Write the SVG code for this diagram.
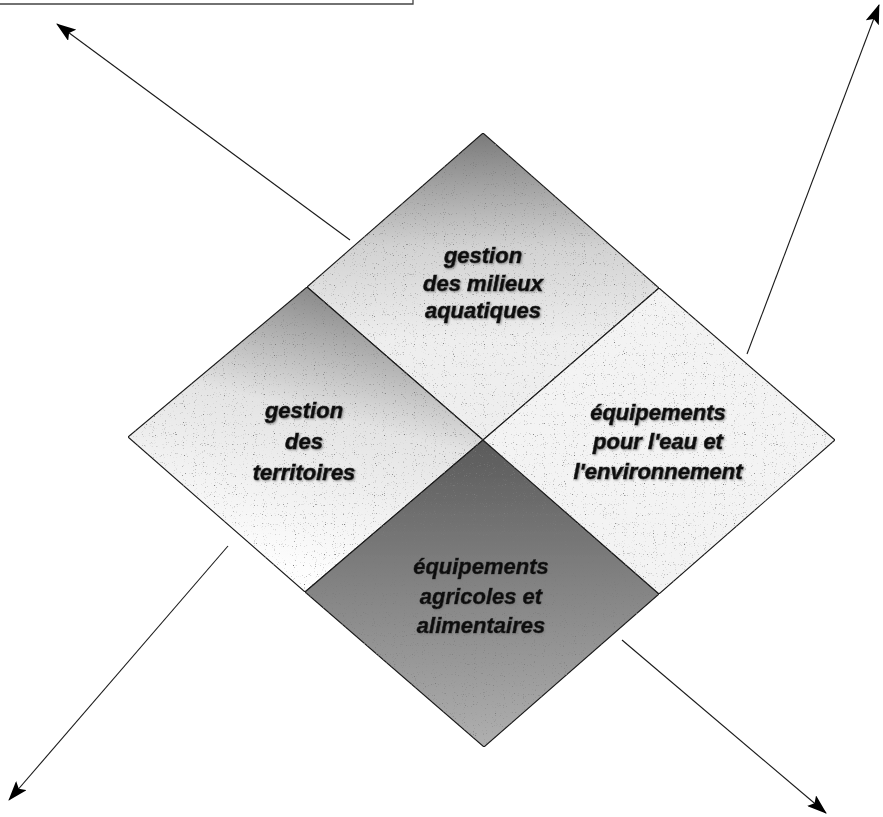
<svg xmlns="http://www.w3.org/2000/svg" width="883" height="817" viewBox="0 0 883 817">
  <defs>
    <style>
      .quad { stroke: #1a1a1a; stroke-width: 1.1; stroke-linejoin: miter; }
      .lbl { font-family: "Liberation Sans", Arial, sans-serif; font-weight: bold; font-style: italic; font-size: 22px; fill: #111; stroke: #111; stroke-width: 0.6; text-anchor: middle; }
      .conn { stroke: #1a1a1a; stroke-width: 1.1; fill: none; marker-end: url(#ah); }
      .frame { stroke: #444; stroke-width: 1.3; fill: none; }
    </style>
    <marker id="ah" viewBox="0 0 20 14" refX="19" refY="7" markerWidth="20" markerHeight="14" markerUnits="userSpaceOnUse" orient="auto">
      <path d="M0,0 L20,7 L0,14 L4,7 Z" fill="#000"/>
    </marker>
    <linearGradient id="gTop" gradientUnits="userSpaceOnUse" x1="483" y1="133" x2="483" y2="340">
      <stop offset="0" stop-color="#7a7a7a"/>
      <stop offset="0.55" stop-color="#d2d2d2"/>
      <stop offset="1" stop-color="#eeeeee"/>
    </linearGradient>
    <linearGradient id="gLeft" gradientUnits="userSpaceOnUse" x1="330" y1="287" x2="260" y2="560">
      <stop offset="0" stop-color="#858585"/>
      <stop offset="0.45" stop-color="#e4e4e4"/>
      <stop offset="1" stop-color="#fdfdfd"/>
    </linearGradient>
    <linearGradient id="gBottom" gradientUnits="userSpaceOnUse" x1="483" y1="440" x2="483" y2="747">
      <stop offset="0" stop-color="#5a5a5a"/>
      <stop offset="1" stop-color="#b0b0b0"/>
    </linearGradient>
    <filter id="grain" x="0" y="0" width="100%" height="100%">
      <feTurbulence type="fractalNoise" baseFrequency="0.9" numOctaves="1" seed="7" result="n"/>
      <feColorMatrix in="n" type="matrix" values="0 0 0 0 0.2  0 0 0 0 0.2  0 0 0 0 0.2  0 0 0 6 -3.9" result="dots"/>
      <feComposite in="dots" in2="SourceAlpha" operator="in" result="d2"/>
      <feMerge><feMergeNode in="SourceGraphic"/><feMergeNode in="d2"/></feMerge>
    </filter>
    <filter id="soft" x="-10%" y="-20%" width="120%" height="140%">
      <feDropShadow dx="1" dy="1" stdDeviation="0.8" flood-color="#777" flood-opacity="0.8"/>
    </filter>
  </defs>

  <rect width="883" height="817" fill="#fff"/>

  <path class="frame" d="M0,4 H413 V0"/>

  <g id="connectors">
    <line class="conn" x1="350" y1="240" x2="57" y2="24"/>
    <line class="conn" x1="747" y1="354" x2="879" y2="5"/>
    <line class="conn" x1="228" y1="546" x2="9" y2="800"/>
    <line class="conn" x1="622" y1="640" x2="826" y2="813"/>
  </g>

  <g id="node-milieux">
    <polygon class="quad" fill="url(#gTop)" filter="url(#grain)" points="483,133 659,288 483,440 307,287"/>
    <g filter="url(#soft)">
      <text class="lbl" x="483" y="263">gestion</text>
      <text class="lbl" x="483" y="291">des milieux</text>
      <text class="lbl" x="483" y="318">aquatiques</text>
    </g>
  </g>

  <g id="node-territoires">
    <polygon class="quad" fill="url(#gLeft)" filter="url(#grain)" points="307,287 483,440 305,592 128,437"/>
    <g filter="url(#soft)">
      <text class="lbl" x="304" y="418">gestion</text>
      <text class="lbl" x="304" y="449">des</text>
      <text class="lbl" x="304" y="480">territoires</text>
    </g>
  </g>

  <g id="node-agricoles">
    <polygon class="quad" fill="url(#gBottom)" filter="url(#grain)" points="483,440 659,594 484,747 305,592"/>
    <g filter="url(#soft)">
      <text class="lbl" x="481" y="574">équipements</text>
      <text class="lbl" x="481" y="604">agricoles et</text>
      <text class="lbl" x="481" y="633">alimentaires</text>
    </g>
  </g>

  <g id="node-eau">
    <polygon class="quad" fill="#f3f3f3" filter="url(#grain)" points="659,288 835,440 659,594 483,440"/>
    <g filter="url(#soft)">
      <text class="lbl" x="658" y="420">équipements</text>
      <text class="lbl" x="658" y="449">pour l'eau et</text>
      <text class="lbl" x="658" y="479">l'environnement</text>
    </g>
  </g>
</svg>
